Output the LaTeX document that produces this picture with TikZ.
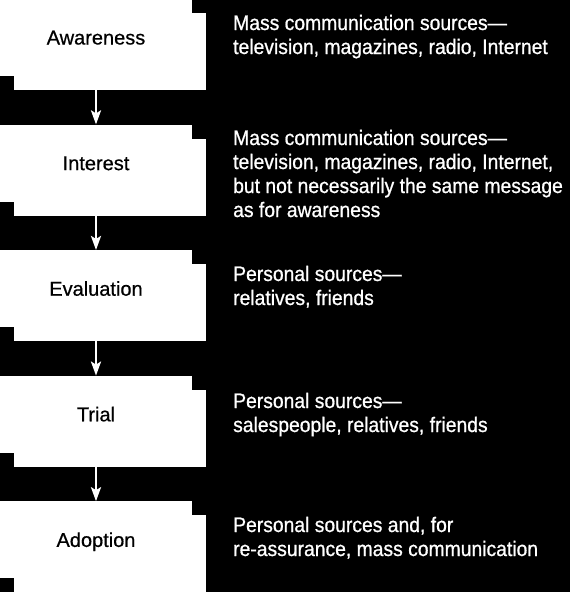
\documentclass[tikz,border=0pt]{standalone}
\usepackage{fontspec}
\setmainfont{Liberation Sans}[FakeStretch=0.92,FakeBold=0.8]
\newfontfamily\stagefont{Liberation Sans}[FakeBold=0.6]
\usetikzlibrary{arrows.meta,shadows}

\begin{document}
\begin{tikzpicture}[x=1pt,y=1pt,
   stage/.style={fill=white,minimum width=192pt,minimum height=77pt,inner sep=0pt,
     text height=14pt,text depth=0pt,font=\stagefont\fontsize{20}{22}\selectfont,
     drop shadow={shadow xshift=14pt,shadow yshift=-14pt,fill=white,opacity=1}},
   source/.style={anchor=base west,text=white,align=left,inner sep=0pt,
     font=\fontsize{21}{24}\selectfont},
   flow/.style={draw=white,line width=2.5pt,-{Stealth[length=14pt,width=10pt,inset=3pt]}}]
   \fill[black] (0,0) rectangle (570,-592);
   \useasboundingbox (0,0) rectangle (570,-592);
   % stages
   \node[stage] (awa) at (96,-37.5) {Awareness};
   \node[stage] (int) at (96,-163.1) {Interest};
   \node[stage] (eva) at (96,-288.7) {Evaluation};
   \node[stage] (tri) at (96,-414.3) {Trial};
   \node[stage] (ado) at (96,-539.9) {Adoption};
   \draw[flow] ([yshift=-14pt]awa.south) -- (int.north);
   \draw[flow] ([yshift=-14pt]int.south) -- (eva.north);
   \draw[flow] ([yshift=-14pt]eva.south) -- (tri.north);
   \draw[flow] ([yshift=-14pt]tri.south) -- (ado.north);
   % sources (base = last line)
   \node[source] (awasrc) at (233,-54) {Mass communication sources—\\television, magazines, radio, Internet};
   \node[source] (intsrc) at (233,-217) {Mass communication sources—\\television, magazines, radio, Internet,\\but not necessarily the same message\\as for awareness};
   \node[source] (evasrc) at (233,-305) {Personal sources—\\relatives, friends};
   \node[source] (trisrc) at (233,-432) {Personal sources—\\salespeople, relatives, friends};
   \node[source] (adosrc) at (233,-556) {Personal sources and, for\\re-assurance, mass communication};
\end{tikzpicture}
\end{document}
